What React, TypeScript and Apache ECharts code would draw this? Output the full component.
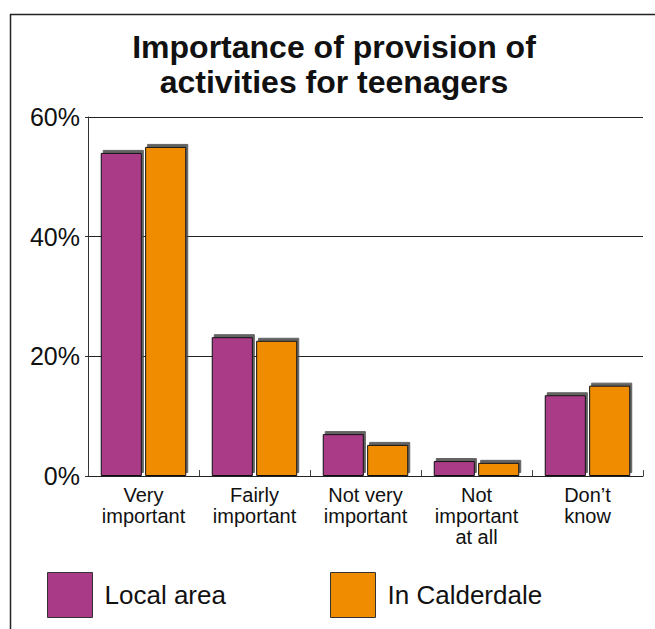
import React, { useEffect, useRef } from "react";
import * as echarts from "echarts";

const categories = [
  "Very\nimportant",
  "Fairly\nimportant",
  "Not very\nimportant",
  "Not\nimportant\nat all",
  "Don\u2019t\nknow",
];
const localArea = [54, 23.2, 7.0, 2.5, 13.5];
const inCalderdale = [55, 22.6, 5.2, 2.2, 15.1];
const seriesNames = ["Local area", "In Calderdale"];
const yTicks = [0, 20, 40, 60];
const titleText = "Importance of provision of\nactivities for teenagers";

const FONT = "'Liberation Sans', Arial, Helvetica, sans-serif";
const PURPLE = "#a93a87";
const ORANGE = "#f08c00";

export default function App() {
  const ref = useRef<HTMLDivElement>(null);
  useEffect(() => {
    document.body.style.margin = "0";
    if (!ref.current) return;
    const chart = echarts.init(ref.current, null, { renderer: "svg" });
    const barStyle = (color: string) => ({
      color,
      borderColor: "#111",
      borderWidth: 1,
      shadowColor: "rgba(70,70,70,0.85)",
      shadowBlur: 1,
      shadowOffsetX: 2,
      shadowOffsetY: -3,
    });
    const legendBase = {
      top: 572,
      padding: 0,
      itemWidth: 45,
      itemHeight: 45,
      icon: "rect",
      textStyle: { fontFamily: FONT, fontSize: 26, color: "#111", padding: [0, 0, 0, 7] },
      itemStyle: {
        borderColor: "#333",
        borderWidth: 1,
        shadowBlur: 0,
        shadowOffsetX: 0,
        shadowOffsetY: 0,
        shadowColor: "transparent",
      },
    };
    chart.setOption({
      animation: false,
      backgroundColor: "#fff",
      title: {
        text: titleText,
        left: 334,
        textAlign: "center",
        top: 29,
        padding: 0,
        textStyle: {
          fontFamily: FONT,
          fontSize: 32,
          fontWeight: "bold",
          lineHeight: 35,
          color: "#111",
        },
      },
      graphic: [
        { type: "line", shape: { x1: 10.5, y1: 14, x2: 10.5, y2: 629 }, style: { stroke: "#222", lineWidth: 1.5 } },
        { type: "line", shape: { x1: 10, y1: 14.5, x2: 655, y2: 14.5 }, style: { stroke: "#222", lineWidth: 1.5 } },
      ],
      legend: [
        { ...legendBase, left: 47, data: [seriesNames[0]] },
        { ...legendBase, left: 330, data: [seriesNames[1]] },
      ],
      grid: { left: 88, right: 12, top: 117, bottom: 153, containLabel: false },
      xAxis: {
        type: "category",
        data: categories,
        axisLine: { lineStyle: { color: "#222", width: 1 } },
        axisTick: { show: true, inside: true, length: 6, lineStyle: { color: "#444" } },
        axisLabel: {
          fontFamily: FONT,
          fontSize: 20,
          lineHeight: 21,
          color: "#111",
          margin: 8,
          interval: 0,
        },
      },
      yAxis: {
        type: "value",
        min: yTicks[0],
        max: yTicks[yTicks.length - 1],
        interval: 20,
        axisLine: { show: true, lineStyle: { color: "#333", width: 1 } },
        axisTick: { show: true, length: 3, lineStyle: { color: "#333" } },
        splitLine: { lineStyle: { color: "#222", width: 1 } },
        axisLabel: {
          formatter: "{value}%",
          fontFamily: FONT,
          fontSize: 25,
          color: "#111",
          margin: 8,
        },
      },
      series: [
        {
          name: seriesNames[0],
          type: "bar",
          data: localArea,
          itemStyle: barStyle(PURPLE),
          barGap: "8%",
          barCategoryGap: "23%",
        },
        {
          name: seriesNames[1],
          type: "bar",
          data: inCalderdale,
          itemStyle: barStyle(ORANGE),
          barGap: "8%",
          barCategoryGap: "23%",
        },
      ],
    });
    return () => chart.dispose();
  }, []);
  return <div ref={ref} style={{ width: 655, height: 629 }} />;
}
